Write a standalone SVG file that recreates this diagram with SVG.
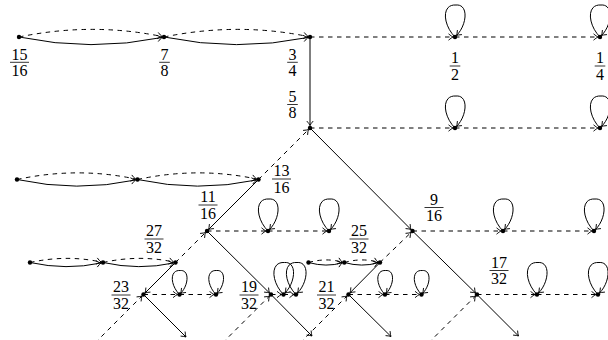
<svg xmlns="http://www.w3.org/2000/svg" xmlns:xlink="http://www.w3.org/1999/xlink" width="608" height="340" viewBox="0 0 608 340">
<style>
.s{fill:none;stroke:#000;stroke-width:1;marker-end:url(#ar)}
.d{fill:none;stroke:#000;stroke-width:1;stroke-dasharray:4.5 4.5;marker-end:url(#ar)}
.dot{fill:#000}
.num{font-family:"Liberation Serif","Times New Roman",serif;font-size:16px;text-anchor:middle;fill:#000}
.bar{stroke:#000;stroke-width:0.8}
</style>
<defs>
<marker id="ar" viewBox="-6 -4 7 8" refX="0" refY="0" markerWidth="7" markerHeight="8" markerUnits="userSpaceOnUse" orient="auto">
<path d="M-4.5,-3.2 Q-1.6,-0.7 0,0 Q-1.6,0.7 -4.5,3.2" fill="none" stroke="#000" stroke-width="0.9" stroke-dasharray="none"/>
</marker>
<path id="L" class="s" d="M0,0 C-12,-12 -14,-33 1,-32 C14,-33 12,-12 1.5,-1.5"/>
<path id="S" class="s" d="M0,0 C-9,-9 -10.5,-24.75 0.75,-24 C10.5,-24.75 9,-9 1.1,-1.1"/>
</defs>

<g id="connectors">
<path class="d" d="M19,37 Q91.5,22 162,36.5"/>
<path class="s" d="M19,37 Q91.5,52 162,37.5"/>
<path class="d" d="M164,37 Q237,22 308,36.5"/>
<path class="s" d="M164,37 Q237,52 308,37.5"/>
<path class="d" d="M310,37 H453"/>
<path class="d" d="M455,37 H598"/>
<path class="s" d="M310,37 V125.5"/>
<use xlink:href="#L" x="455" y="37"/>
<use xlink:href="#L" x="600" y="37"/>
<path class="d" d="M310,128 H453"/>
<path class="d" d="M455,128 H598"/>
<use xlink:href="#L" x="455" y="128"/>
<use xlink:href="#L" x="600" y="128"/>
<path class="s" d="M310,128 L411,229.5"/>
<path class="d" d="M258.5,179.5 L308.5,129.5"/>
<path class="d" d="M17,179.5 Q77.25,166.5 135.5,179"/>
<path class="s" d="M17,179.5 Q77.25,192.5 135.5,180"/>
<path class="d" d="M137.5,179.5 Q198,166.5 256.5,179"/>
<path class="s" d="M137.5,179.5 Q198,192.5 256.5,180"/>
<path class="s" d="M258.5,179.5 L208.5,229.5"/>
<path class="d" d="M207,231 H266"/>
<path class="d" d="M268,231 H327"/>
<use xlink:href="#L" x="268" y="231"/>
<use xlink:href="#L" x="329" y="231"/>
<path class="s" d="M207,231 L269.5,293"/>
<path class="d" d="M175.5,262.5 L205.5,232.5"/>
<path class="d" d="M412.5,231 H501"/>
<path class="d" d="M503,231 H592"/>
<use xlink:href="#L" x="503" y="231"/>
<use xlink:href="#L" x="594" y="231"/>
<path class="s" d="M412.5,231 L475.5,293"/>
<path class="d" d="M380,262.5 L411,232.5"/>
<path class="d" d="M30,262.5 Q66.5,254.5 101,262"/>
<path class="s" d="M30,262.5 Q66.5,270.5 101,263"/>
<path class="d" d="M103,262.5 Q139.25,254.5 173.5,262"/>
<path class="s" d="M103,262.5 Q139.25,270.5 173.5,263"/>
<path class="s" d="M175.5,262.5 L145,293"/>
<path class="d" d="M143.5,294.5 H177.5"/>
<path class="d" d="M179.5,294.5 H214"/>
<use xlink:href="#S" x="179.5" y="294.5"/>
<use xlink:href="#S" x="216" y="294.5"/>
<path class="s" d="M143.5,294.5 L186,337"/>
<path class="d" d="M95,343 L142,296"/>
<path class="d" d="M308.5,262.5 Q326.4,257.5 342.3,262.2"/>
<path class="s" d="M308.5,262.5 Q326.4,267.5 342.3,262.8"/>
<path class="d" d="M344.3,262.5 Q362,257.5 378,262.2"/>
<path class="s" d="M344.3,262.5 Q362,267.5 378,262.8"/>
<path class="s" d="M380,262.5 L350,292.8"/>
<path class="d" d="M348.5,294.5 H383"/>
<path class="d" d="M385,294.5 H419.5"/>
<use xlink:href="#S" x="385" y="294.5"/>
<use xlink:href="#S" x="421.5" y="294.5"/>
<path class="s" d="M348.5,294.5 L391,336.5"/>
<path class="d" d="M300,343 L347,296"/>
<path class="d" d="M271,294.5 H281.5"/>
<path class="d" d="M283.5,294.5 H294"/>
<use xlink:href="#L" x="283.5" y="294.5"/>
<use xlink:href="#L" x="296" y="294.5"/>
<path class="s" d="M271,294.5 L312,336"/>
<path class="d" d="M222.5,343 L269.5,296"/>
<path class="d" d="M477,294.5 H535"/>
<path class="d" d="M537,294.5 H596"/>
<use xlink:href="#L" x="537" y="294.5"/>
<use xlink:href="#L" x="598" y="294.5"/>
<path class="s" d="M477,294.5 L518.5,336"/>
<path class="d" d="M428.5,343 L475.5,296"/>
</g>

<g id="n15_16"><circle class="dot" cx="19" cy="37" r="2.2"/><text class="num" x="19.5" y="59.6">15</text><line class="bar" x1="10" y1="62.3" x2="29" y2="62.3"/><text class="num" x="19.5" y="75.8">16</text></g>
<g id="n7_8"><circle class="dot" cx="164" cy="37" r="2.2"/><text class="num" x="164.5" y="59.6">7</text><line class="bar" x1="159.2" y1="62.3" x2="169.8" y2="62.3"/><text class="num" x="164.5" y="75.8">8</text></g>
<g id="n3_4"><circle class="dot" cx="310" cy="37" r="2.2"/><text class="num" x="292.5" y="59.6">3</text><line class="bar" x1="287.2" y1="62.3" x2="297.8" y2="62.3"/><text class="num" x="292.5" y="75.8">4</text></g>
<g id="n1_2"><circle class="dot" cx="455" cy="37" r="2.2"/><text class="num" x="455" y="63.3">1</text><line class="bar" x1="449.7" y1="66" x2="460.3" y2="66"/><text class="num" x="455" y="79.5">2</text></g>
<g id="n1_4"><circle class="dot" cx="600" cy="37" r="2.2"/><text class="num" x="600" y="63.3">1</text><line class="bar" x1="594.7" y1="66" x2="605.3" y2="66"/><text class="num" x="600" y="79.5">4</text></g>
<g id="n5_8"><circle class="dot" cx="310" cy="128" r="2.2"/><text class="num" x="292.5" y="101.8">5</text><line class="bar" x1="287.2" y1="104.5" x2="297.8" y2="104.5"/><text class="num" x="292.5" y="118">8</text></g>
<g id="n5_8_a"><circle class="dot" cx="455" cy="128" r="2.2"/></g>
<g id="n5_8_b"><circle class="dot" cx="600" cy="128" r="2.2"/></g>
<g id="n13_16"><circle class="dot" cx="258.5" cy="179.5" r="2.2"/><text class="num" x="281.5" y="176.3">13</text><line class="bar" x1="272" y1="179" x2="291" y2="179"/><text class="num" x="281.5" y="192.5">16</text></g>
<g id="n13_16_a"><circle class="dot" cx="17" cy="179.5" r="2.2"/></g>
<g id="n13_16_b"><circle class="dot" cx="137.5" cy="179.5" r="2.2"/></g>
<g id="n11_16"><circle class="dot" cx="207" cy="231" r="2.2"/><text class="num" x="208" y="202.3">11</text><line class="bar" x1="198.5" y1="205" x2="217.5" y2="205"/><text class="num" x="208" y="218.5">16</text></g>
<g id="n11_16_a"><circle class="dot" cx="268" cy="231" r="2.2"/></g>
<g id="n11_16_b"><circle class="dot" cx="329" cy="231" r="2.2"/></g>
<g id="n9_16"><circle class="dot" cx="412.5" cy="231" r="2.2"/><text class="num" x="434" y="204.8">9</text><line class="bar" x1="424.5" y1="207.5" x2="443.5" y2="207.5"/><text class="num" x="434" y="221">16</text></g>
<g id="n9_16_a"><circle class="dot" cx="503" cy="231" r="2.2"/></g>
<g id="n9_16_b"><circle class="dot" cx="594" cy="231" r="2.2"/></g>
<g id="n27_32"><circle class="dot" cx="175.5" cy="262.5" r="2.2"/><text class="num" x="154" y="236.3">27</text><line class="bar" x1="144.5" y1="239" x2="163.5" y2="239"/><text class="num" x="154" y="252.5">32</text></g>
<g id="n27_32_a"><circle class="dot" cx="30" cy="262.5" r="2.2"/></g>
<g id="n27_32_b"><circle class="dot" cx="103" cy="262.5" r="2.2"/></g>
<g id="n25_32"><circle class="dot" cx="380" cy="262.5" r="2.2"/><text class="num" x="359" y="236.3">25</text><line class="bar" x1="349.5" y1="239" x2="368.5" y2="239"/><text class="num" x="359" y="252.5">32</text></g>
<g id="n25_32_a"><circle class="dot" cx="308.5" cy="262.5" r="2.2"/></g>
<g id="n25_32_b"><circle class="dot" cx="344.3" cy="262.5" r="2.2"/></g>
<g id="n23_32"><circle class="dot" cx="143.5" cy="294.5" r="2.2"/><text class="num" x="121" y="292.3">23</text><line class="bar" x1="111.5" y1="295" x2="130.5" y2="295"/><text class="num" x="121" y="308.5">32</text></g>
<g id="n23_32_a"><circle class="dot" cx="179.5" cy="294.5" r="2.2"/></g>
<g id="n23_32_b"><circle class="dot" cx="216" cy="294.5" r="2.2"/></g>
<g id="n19_32"><circle class="dot" cx="271" cy="294.5" r="2.2"/><text class="num" x="249" y="292.3">19</text><line class="bar" x1="239.5" y1="295" x2="258.5" y2="295"/><text class="num" x="249" y="308.5">32</text></g>
<g id="n19_32_a"><circle class="dot" cx="283.5" cy="294.5" r="2.2"/></g>
<g id="n19_32_b"><circle class="dot" cx="296" cy="294.5" r="2.2"/></g>
<g id="n21_32"><circle class="dot" cx="348.5" cy="294.5" r="2.2"/><text class="num" x="326.5" y="292.3">21</text><line class="bar" x1="317" y1="295" x2="336" y2="295"/><text class="num" x="326.5" y="308.5">32</text></g>
<g id="n21_32_a"><circle class="dot" cx="385" cy="294.5" r="2.2"/></g>
<g id="n21_32_b"><circle class="dot" cx="421.5" cy="294.5" r="2.2"/></g>
<g id="n17_32"><circle class="dot" cx="477" cy="294.5" r="2.2"/><text class="num" x="499" y="267.8">17</text><line class="bar" x1="489.5" y1="270.5" x2="508.5" y2="270.5"/><text class="num" x="499" y="284">32</text></g>
<g id="n17_32_a"><circle class="dot" cx="537" cy="294.5" r="2.2"/></g>
<g id="n17_32_b"><circle class="dot" cx="598" cy="294.5" r="2.2"/></g>
</svg>
